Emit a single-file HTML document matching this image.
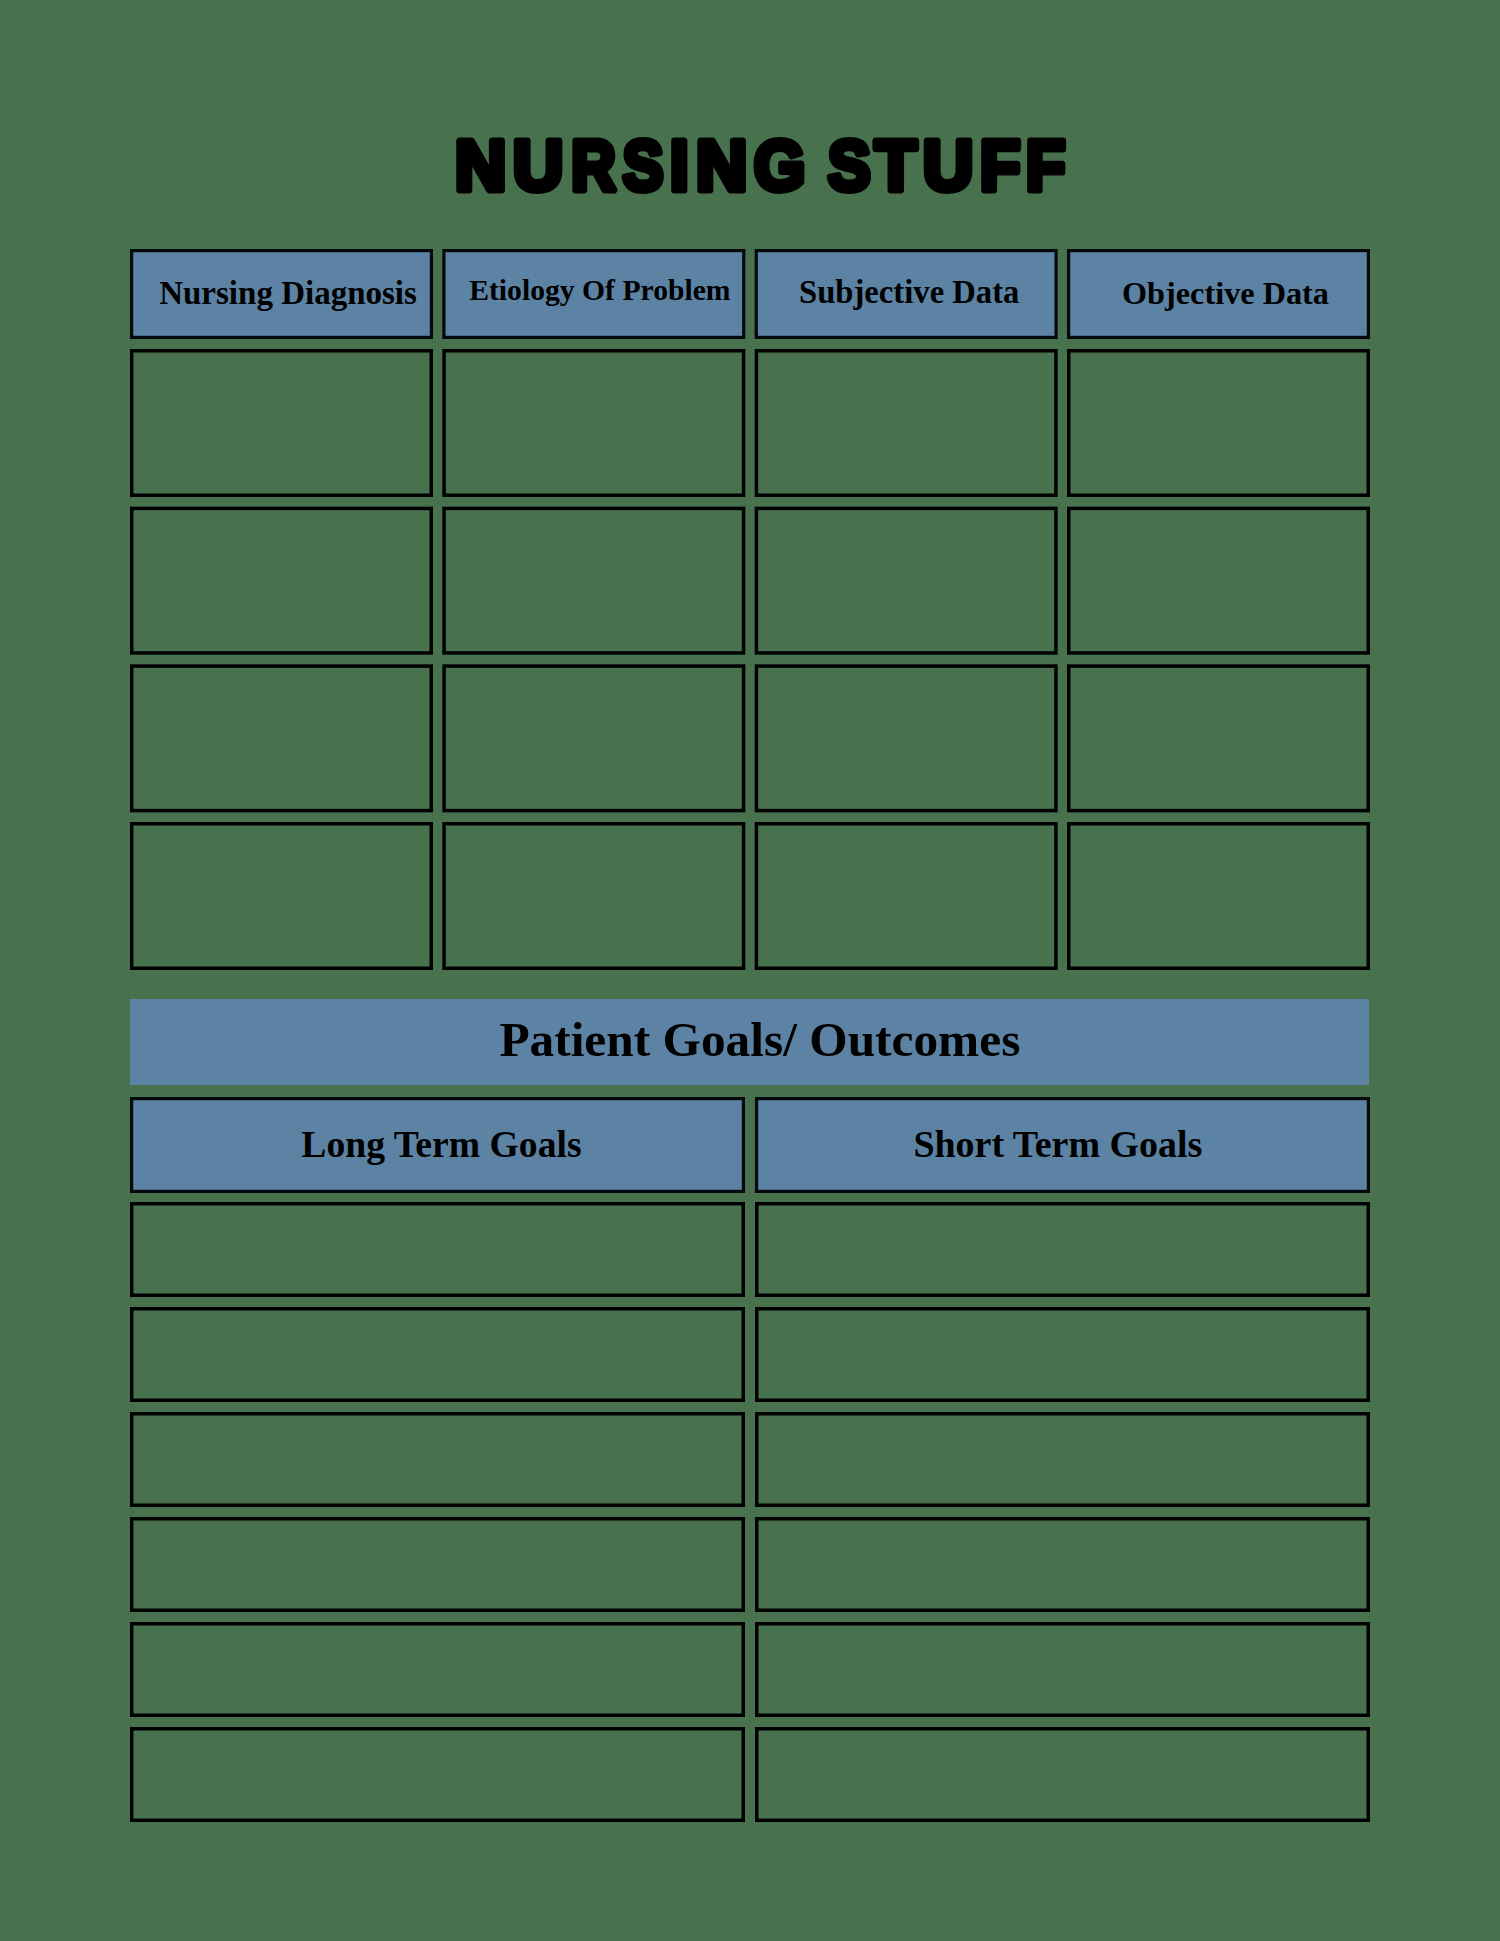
<!DOCTYPE html>
<html><head><meta charset="utf-8"><title>Nursing Stuff</title>
<style>
html,body{margin:0;padding:0;background:#48714e;}
body{width:1500px;height:1941px;overflow:hidden;position:relative;}
svg{position:absolute;left:0;top:0;}
</style></head>
<body>
<svg width="1500" height="1941" viewBox="0 0 1500 1941">
<rect x="0" y="0" width="1500" height="1941" fill="#48714e"/>
<g font-family="Liberation Sans, sans-serif" font-weight="bold" font-size="71" fill="#000" stroke="#000" stroke-width="7" stroke-linejoin="round"><text transform="translate(455.00,189.5) scale(1.0000,1)" x="0" y="0">N</text><text transform="translate(513.02,189.5) scale(0.9796,1)" x="0" y="0">U</text><text transform="translate(571.13,189.5) scale(0.8654,1)" x="0" y="0">R</text><text transform="translate(622.86,189.5) scale(0.8571,1)" x="0" y="0">S</text><text transform="translate(670.06,189.5) scale(0.9412,1)" x="0" y="0">I</text><text transform="translate(696.00,189.5) scale(1.0000,1)" x="0" y="0">N</text><text transform="translate(753.93,189.5) scale(0.9273,1)" x="0" y="0">G</text><text transform="translate(827.90,189.5) scale(0.8980,1)" x="0" y="0">S</text><text transform="translate(874.88,189.5) scale(0.9592,1)" x="0" y="0">T</text><text transform="translate(923.02,189.5) scale(0.9796,1)" x="0" y="0">U</text><text transform="translate(980.07,189.5) scale(0.9302,1)" x="0" y="0">F</text><text transform="translate(1026.09,189.5) scale(0.9070,1)" x="0" y="0">F</text></g>
<rect x="131.60" y="250.60" width="299.80" height="86.80" fill="#5c83a4" stroke="#05080d" stroke-width="3.2"/><rect x="443.93" y="250.60" width="299.80" height="86.80" fill="#5c83a4" stroke="#05080d" stroke-width="3.2"/><rect x="756.27" y="250.60" width="299.80" height="86.80" fill="#5c83a4" stroke="#05080d" stroke-width="3.2"/><rect x="1068.60" y="250.60" width="299.80" height="86.80" fill="#5c83a4" stroke="#05080d" stroke-width="3.2"/><rect x="131.75" y="350.75" width="299.50" height="144.50" fill="none" stroke="#000" stroke-width="3.5"/><rect x="444.08" y="350.75" width="299.50" height="144.50" fill="none" stroke="#000" stroke-width="3.5"/><rect x="756.42" y="350.75" width="299.50" height="144.50" fill="none" stroke="#000" stroke-width="3.5"/><rect x="1068.75" y="350.75" width="299.50" height="144.50" fill="none" stroke="#000" stroke-width="3.5"/><rect x="131.75" y="508.42" width="299.50" height="144.50" fill="none" stroke="#000" stroke-width="3.5"/><rect x="444.08" y="508.42" width="299.50" height="144.50" fill="none" stroke="#000" stroke-width="3.5"/><rect x="756.42" y="508.42" width="299.50" height="144.50" fill="none" stroke="#000" stroke-width="3.5"/><rect x="1068.75" y="508.42" width="299.50" height="144.50" fill="none" stroke="#000" stroke-width="3.5"/><rect x="131.75" y="666.08" width="299.50" height="144.50" fill="none" stroke="#000" stroke-width="3.5"/><rect x="444.08" y="666.08" width="299.50" height="144.50" fill="none" stroke="#000" stroke-width="3.5"/><rect x="756.42" y="666.08" width="299.50" height="144.50" fill="none" stroke="#000" stroke-width="3.5"/><rect x="1068.75" y="666.08" width="299.50" height="144.50" fill="none" stroke="#000" stroke-width="3.5"/><rect x="131.75" y="823.75" width="299.50" height="144.50" fill="none" stroke="#000" stroke-width="3.5"/><rect x="444.08" y="823.75" width="299.50" height="144.50" fill="none" stroke="#000" stroke-width="3.5"/><rect x="756.42" y="823.75" width="299.50" height="144.50" fill="none" stroke="#000" stroke-width="3.5"/><rect x="1068.75" y="823.75" width="299.50" height="144.50" fill="none" stroke="#000" stroke-width="3.5"/><rect x="130" y="999" width="1239" height="86" fill="#5c83a4"/><rect x="131.60" y="1098.60" width="611.80" height="92.80" fill="#5c83a4" stroke="#05080d" stroke-width="3.2"/><rect x="756.60" y="1098.60" width="611.80" height="92.80" fill="#5c83a4" stroke="#05080d" stroke-width="3.2"/><rect x="131.75" y="1203.75" width="611.50" height="91.50" fill="none" stroke="#000" stroke-width="3.5"/><rect x="756.75" y="1203.75" width="611.50" height="91.50" fill="none" stroke="#000" stroke-width="3.5"/><rect x="131.75" y="1308.75" width="611.50" height="91.50" fill="none" stroke="#000" stroke-width="3.5"/><rect x="756.75" y="1308.75" width="611.50" height="91.50" fill="none" stroke="#000" stroke-width="3.5"/><rect x="131.75" y="1413.75" width="611.50" height="91.50" fill="none" stroke="#000" stroke-width="3.5"/><rect x="756.75" y="1413.75" width="611.50" height="91.50" fill="none" stroke="#000" stroke-width="3.5"/><rect x="131.75" y="1518.75" width="611.50" height="91.50" fill="none" stroke="#000" stroke-width="3.5"/><rect x="756.75" y="1518.75" width="611.50" height="91.50" fill="none" stroke="#000" stroke-width="3.5"/><rect x="131.75" y="1623.75" width="611.50" height="91.50" fill="none" stroke="#000" stroke-width="3.5"/><rect x="756.75" y="1623.75" width="611.50" height="91.50" fill="none" stroke="#000" stroke-width="3.5"/><rect x="131.75" y="1728.75" width="611.50" height="91.50" fill="none" stroke="#000" stroke-width="3.5"/><rect x="756.75" y="1728.75" width="611.50" height="91.50" fill="none" stroke="#000" stroke-width="3.5"/>
<g font-family="Liberation Serif, serif" font-weight="bold" fill="#000">
<text x="159.2" y="303.6" font-size="33.0" text-anchor="start">Nursing Diagnosis</text><text x="469.2" y="299.5" font-size="29.67" text-anchor="start">Etiology Of Problem</text><text x="799" y="303.3" font-size="32.67" text-anchor="start">Subjective Data</text><text x="1122" y="303.6" font-size="32.28" text-anchor="start">Objective Data</text><text x="499.4" y="1055.5" font-size="49.37" text-anchor="start">Patient Goals/ Outcomes</text><text x="301.3" y="1156.8" font-size="37.65" text-anchor="start">Long Term Goals</text><text x="913.4" y="1156.8" font-size="37.96" text-anchor="start">Short Term Goals</text>
</g>
</svg>
</body></html>
